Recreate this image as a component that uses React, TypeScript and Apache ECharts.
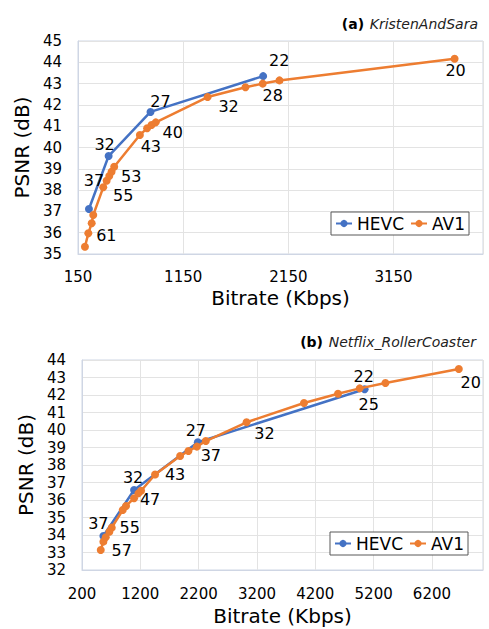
import React, { useEffect, useRef } from "react";
import * as echarts from "echarts";

// ---- (a) KristenAndSara ----
const topHevcRate = [254, 441, 839, 1910];
const topHevcPsnr = [37.11, 39.6, 41.67, 43.35];
const topHevcQp = ["37", "32", "27", "22"];

const topAv1Rate = [216, 248, 280, 295, 390, 422, 447, 469, 494, 738, 807, 849, 889, 1382, 1742, 1906, 2065, 3730];
const topAv1Psnr = [35.34, 35.97, 36.44, 36.83, 38.13, 38.44, 38.66, 38.86, 39.1, 40.59, 40.9, 41.06, 41.18, 42.37, 42.83, 43.0, 43.15, 44.17];
const topAv1Qp = ["", "61", "", "", "55", "", "", "", "53", "43", "", "", "40", "32", "", "28", "", "20"];

// ---- (b) Netflix_RollerCoaster ----
const botHevcRate = [566, 1093, 2186, 5046];
const botHevcPsnr = [33.94, 36.57, 39.3, 42.33];
const botHevcQp = ["37", "32", "27", "22"];

const botAv1Rate = [521, 566, 607, 669, 710, 899, 955, 1093, 1167, 1213, 1453, 1882, 2025, 2169, 2323, 3021, 4006, 4589, 4961, 5402, 6660];
const botAv1Psnr = [33.14, 33.62, 33.87, 34.19, 34.42, 35.43, 35.66, 36.1, 36.38, 36.53, 37.46, 38.51, 38.8, 39.05, 39.37, 40.44, 41.54, 42.07, 42.38, 42.69, 43.49];
const botAv1Qp = ["57", "", "", "", "55", "", "", "47", "", "", "43", "", "", "37", "", "32", "", "", "25", "", "20"];

// label placement (layout only)
const topHevcOffsets: Record<number, [number, number]> = { 0: [5, -29], 1: [-4, -12], 2: [10, -10], 3: [16, -16] };
const topAv1Offsets: Record<number, [number, number]> = {
  1: [18, 2], 4: [20, 8], 8: [17, 10], 9: [11, 12], 12: [17, 10], 13: [21, 9], 15: [10, 12], 17: [1, 12],
};
const botHevcOffsets: Record<number, [number, number]> = { 0: [-5, -13], 1: [-1, -13], 2: [-2, -12], 3: [-1, -13] };
const botAv1Offsets: Record<number, [number, number]> = {
  0: [21, 0], 4: [18, 0], 7: [16, 1], 10: [20, 0], 13: [14, 9], 15: [18, 11], 18: [9, 16], 20: [12, 14],
};

const FONT = "DejaVu Sans";
const BLUE = "#4472C4";
const ORANGE = "#ED7D31";

function buildData(rates: number[], psnr: number[], qps: string[], offsets: Record<number, [number, number]>) {
  return rates.map((r, i) => {
    const item: any = { value: [r, psnr[i]] };
    if (qps[i]) {
      item.label = { show: true, formatter: qps[i], offset: offsets[i] || [0, 0] };
    }
    return item;
  });
}

function makeSeries(name: string, color: string, idx: number, data: any[], z: number) {
  return {
    name,
    type: "line",
    xAxisIndex: idx,
    yAxisIndex: idx,
    data,
    z,
    symbol: "circle",
    symbolSize: 8,
    itemStyle: { color },
    lineStyle: { color, width: 2.5 },
    label: { show: false, position: "inside", fontSize: 16, color: "#000", fontFamily: FONT, lineHeight: 16 },
    emphasis: { disabled: true },
  };
}

const axisCommon = {
  type: "value",
  axisTick: { show: false },
  axisLine: { show: true, lineStyle: { color: "#cfd6e4", width: 1 } },
  splitLine: { show: true, lineStyle: { color: "#e3e3e3", width: 1 } },
};

const plain = (v: number) => String(v);

export default function App() {
  const ref = useRef<HTMLDivElement>(null);
  useEffect(() => {
    if (!ref.current) return;
    const chart = echarts.init(ref.current, undefined, { renderer: "svg" });
    const legendBase = {
      data: ["HEVC", "AV1"],
      itemWidth: 16,
      itemHeight: 9,
      itemGap: 6,
      padding: [3, 4],
      borderColor: "#595959",
      borderWidth: 1,
      backgroundColor: "#fff",
      textStyle: { fontSize: 17, color: "#000", fontFamily: FONT },
    };
    const titleRich = {
      b: { fontWeight: "bold", fontSize: 14, color: "#000", fontFamily: FONT },
      i: { fontWeight: "normal", fontStyle: "italic", fontSize: 14, color: "#222", fontFamily: FONT },
    };
    const nameStyle = { fontSize: 20, color: "#000", fontFamily: FONT };
    const labelStyle = { fontSize: 15, color: "#000", fontFamily: FONT };
    chart.setOption({
      animation: false,
      backgroundColor: "#fff",
      textStyle: { fontFamily: FONT },
      title: [
        { text: "{b|(a)} {i|KristenAndSara}", right: 6, top: 10, textStyle: { fontWeight: "normal", rich: titleRich } },
        { text: "{b|(b)} {i|Netflix_RollerCoaster}", right: 8, top: 328, textStyle: { fontWeight: "normal", rich: titleRich } },
      ],
      legend: [
        { ...legendBase, left: 331, top: 212 },
        { ...legendBase, left: 330, top: 532 },
      ],
      grid: [
        { left: 78, top: 41, width: 405, height: 213, show: true, borderColor: "#cfd6e4", borderWidth: 1 },
        { left: 82, top: 360, width: 401, height: 210, show: true, borderColor: "#cfd6e4", borderWidth: 1 },
      ],
      xAxis: [
        {
          ...axisCommon, gridIndex: 0, min: 150, max: 4000, interval: 1000,
          name: "Bitrate (Kbps)", nameLocation: "middle", nameGap: 34, nameTextStyle: nameStyle,
          axisLabel: { ...labelStyle, margin: 15, showMaxLabel: false, formatter: plain },
        },
        {
          ...axisCommon, gridIndex: 1, min: 200, max: 7075, interval: 1000,
          name: "Bitrate (Kbps)", nameLocation: "middle", nameGap: 36, nameTextStyle: nameStyle,
          axisLabel: { ...labelStyle, margin: 16, showMaxLabel: false, formatter: plain },
        },
      ],
      yAxis: [
        {
          ...axisCommon, gridIndex: 0, min: 35, max: 45, interval: 1,
          name: "PSNR (dB)", nameLocation: "middle", nameGap: 40, nameTextStyle: nameStyle,
          axisLabel: { ...labelStyle, margin: 16, formatter: plain },
        },
        {
          ...axisCommon, gridIndex: 1, min: 32, max: 44, interval: 1,
          name: "PSNR (dB)", nameLocation: "middle", nameGap: 44, nameTextStyle: nameStyle,
          axisLabel: { ...labelStyle, margin: 16, formatter: plain },
        },
      ],
      series: [
        makeSeries("HEVC", BLUE, 0, buildData(topHevcRate, topHevcPsnr, topHevcQp, topHevcOffsets), 2),
        makeSeries("AV1", ORANGE, 0, buildData(topAv1Rate, topAv1Psnr, topAv1Qp, topAv1Offsets), 3),
        makeSeries("HEVC", BLUE, 1, buildData(botHevcRate, botHevcPsnr, botHevcQp, botHevcOffsets), 2),
        makeSeries("AV1", ORANGE, 1, buildData(botAv1Rate, botAv1Psnr, botAv1Qp, botAv1Offsets), 3),
      ],
    });
    return () => chart.dispose();
  }, []);
  return (
    <div
      ref={ref}
      style={{ position: "absolute", left: 0, top: 0, width: 489, height: 629 }}
    />
  );
}
